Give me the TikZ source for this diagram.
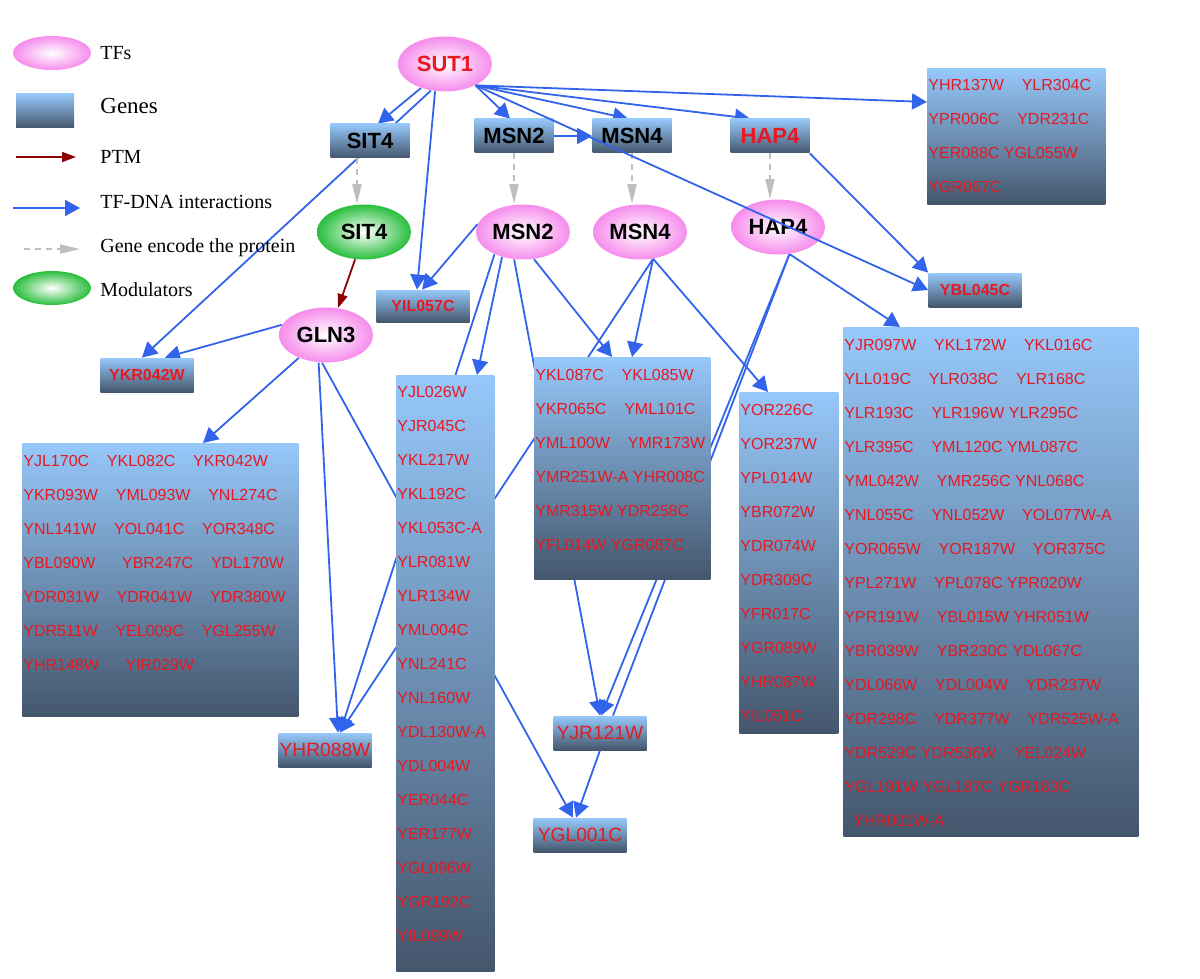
\documentclass[tikz,border=0pt]{standalone}
\usepackage{fontspec}
\setmainfont{Liberation Serif}
\newfontfamily\arialf{Liberation Sans}
\usepackage{tikz}
\usetikzlibrary{arrows.meta, calc, shapes.geometric}

\definecolor{tfpink}{RGB}{246,140,236}
\definecolor{modgreen}{RGB}{40,190,60}
\definecolor{genetop}{RGB}{150,200,250}
\definecolor{genebot}{RGB}{68,86,108}
\definecolor{genered}{RGB}{230,25,35}
\definecolor{edgeblue}{RGB}{50,100,235}
\definecolor{ptmred}{RGB}{140,0,0}
\definecolor{encgray}{RGB}{190,190,190}

\pgfdeclarelayer{bg}
\pgfsetlayers{bg,main}

\tikzset{
  tf/.style={ellipse, minimum width=47pt, minimum height=27.5pt, inner sep=0, inner color=white, outer color=tfpink, font=\arialf\bfseries\fontsize{11}{12}\selectfont},
  modu/.style={tf, outer color=modgreen},
  gene/.style={rectangle, minimum width=39.5pt, minimum height=17pt, inner sep=0, top color=genetop, bottom color=genebot, font=\arialf\bfseries\fontsize{11}{12}\selectfont},
  hit/.style={gene, minimum width=46.5pt, font=\arialf\bfseries\fontsize{8}{9}\selectfont, text=genered},
  bighit/.style={gene, minimum width=46.5pt, font=\arialf\fontsize{9.6}{11}\selectfont, text=genered},
  genebox/.style={rectangle, anchor=north west, inner sep=0, top color=genetop, bottom color=genebot},
  genetxt/.style={anchor=west, inner sep=0, text=genered, font=\arialf\fontsize{8}{9}\selectfont},
  legtxt/.style={anchor=west, inner sep=0, font=\fontsize{10}{12}\selectfont},
  tfline/.style={draw=edgeblue, line width=0.9pt},
  tfdna/.style={tfline, -{Triangle[length=7.5pt,width=8pt]}},
  ptm/.style={draw=ptmred, line width=0.9pt, -{Triangle[length=7pt,width=5pt]}},
  encode/.style={draw=encgray, line width=1pt, dash pattern=on 3pt off 2.5pt, -{Triangle[length=10pt,width=4.5pt]}}
}

\begin{document}
\begin{tikzpicture}[x=0.5pt, y=-0.5pt]
    \useasboundingbox (0,0) rectangle (1200,979);

    % legend
    \node[tf, minimum width=39pt, minimum height=17pt] (lgtf) at (52,53) {};
    \node[legtxt] (lgtft) at (100,53) {TFs};
    \node[gene, minimum width=29pt, minimum height=17pt] (lggene) at (45,111) {};
    \node[legtxt, font=\fontsize{11.5}{13}\selectfont] (lggenet) at (100,106) {Genes};
    \coordinate (lgptma) at (16,157);
    \coordinate (lgptmb) at (76,157);
    \draw[ptm] (lgptma) -- (lgptmb);
    \node[legtxt] (lgptmt) at (100,157) {PTM};
    \coordinate (lgdnaa) at (13,208);
    \coordinate (lgdnab) at (80,208);
    \draw[tfdna] (lgdnaa) -- (lgdnab);
    \node[legtxt] (lgdnat) at (100,202) {TF-DNA interactions};
    \coordinate (lgenca) at (24,249);
    \coordinate (lgencb) at (80,249);
    \draw[encode] (lgenca) -- (lgencb);
    \node[legtxt] (lgenct) at (100,248) {Gene encode the protein};
    \node[modu, minimum width=39pt, minimum height=17pt] (lgmod) at (52,288) {};
    \node[legtxt] (lgmodt) at (100,290) {Modulators};

    % regulators
    \node[tf, text=genered] (sut1) at (445,64) {SUT1};
    \node[gene] (sit4g) at (370,141) {SIT4};
    \node[gene] (msn2g) at (514,136) {MSN2};
    \node[gene] (msn4g) at (632,136) {MSN4};
    \node[gene, text=genered] (hap4g) at (770,136) {HAP4};
    \node[modu] (sit4p) at (364,232) {SIT4};
    \node[tf] (msn2p) at (523,232) {MSN2};
    \node[tf] (msn4p) at (640,232) {MSN4};
    \node[tf] (hap4p) at (778,227) {HAP4};
    \node[tf] (gln3) at (326,335) {GLN3};

    % single targets
    \node[hit, minimum height=16pt] (yil057) at (423,306) {YIL057C};
    \node[hit] (ykr042) at (147,375) {YKR042W};
    \node[hit] (ybl045) at (975,290) {YBL045C};
    \node[bighit] (yhr088) at (325,750) {YHR088W};
    \node[bighit] (yjr121) at (600,733) {YJR121W};
    \node[bighit] (ygl001) at (580,835) {YGL001C};

    % target groups
    \node[genebox, minimum width=89pt, minimum height=68pt] (sutT) at (927,68) {};
    \foreach \g [count=\i] in {YHR137W~~~~YLR304C, YPR006C~~~~YDR231C, YER088C~YGL055W, YGR067C}
        \node[genetxt] (sutT-\i) at (928,{85+(\i-1)*34}) {\g};

    \node[genebox, minimum width=138pt, minimum height=136.5pt] (glnT) at (22,443) {};
    \foreach \g [count=\i] in {YJL170C~~~~YKL082C~~~~YKR042W, YKR093W~~~~YML093W~~~~YNL274C,
        YNL141W~~~~YOL041C~~~~YOR348C, YBL090W~~~~~~YBR247C~~~~YDL170W,
        YDR031W~~~~YDR041W~~~~YDR380W, YDR511W~~~~YEL009C~~~~YGL255W, YHR148W~~~~~~YIR029W}
        \node[genetxt] (glnT-\i) at (23,{461+(\i-1)*34}) {\g};

    \node[genebox, minimum width=49pt, minimum height=298pt] (msn2T) at (396,375) {};
    \foreach \g [count=\i] in {YJL026W, YJR045C, YKL217W, YKL192C, YKL053C-A, YLR081W, YLR134W,
        YML004C, YNL241C, YNL160W, YDL130W-A, YDL004W, YER044C, YER177W, YGL096W, YGR192C, YIL099W}
        \node[genetxt] (msn2T-\i) at (397,{392+(\i-1)*34}) {\g};

    \node[genebox, minimum width=88pt, minimum height=111pt] (midT) at (534,357) {};
    \foreach \g [count=\i] in {YKL087C~~~~YKL085W, YKR065C~~~~YML101C, YML100W~~~~YMR173W,
        YMR251W-A~YHR008C, YMR315W~YDR258C, YFL014W~YGR087C}
        \node[genetxt] (midT-\i) at (535,{375+(\i-1)*34}) {\g};

    \node[genebox, minimum width=49.5pt, minimum height=170.5pt] (msn4T) at (739,392) {};
    \foreach \g [count=\i] in {YOR226C, YOR237W, YPL014W, YBR072W, YDR074W, YDR309C, YFR017C,
        YGR089W, YHR087W, YIL051C}
        \node[genetxt] (msn4T-\i) at (740,{410+(\i-1)*34}) {\g};

    \node[genebox, minimum width=147.5pt, minimum height=254.5pt] (hapT) at (843,327) {};
    \foreach \g [count=\i] in {YJR097W~~~~YKL172W~~~~YKL016C, YLL019C~~~~YLR038C~~~~YLR168C,
        YLR193C~~~~YLR196W~YLR295C, YLR395C~~~~YML120C~YML087C, YML042W~~~~YMR256C~YNL068C,
        YNL055C~~~~YNL052W~~~~YOL077W-A, YOR065W~~~~YOR187W~~~~YOR375C, YPL271W~~~~YPL078C~YPR020W,
        YPR191W~~~~YBL015W~YHR051W, YBR039W~~~~YBR230C~YDL067C, YDL066W~~~~YDL004W~~~~YDR237W,
        YDR298C~~~~YDR377W~~~~YDR525W-A, YDR529C~YDR536W~~~~YEL024W, YGL191W~YGL187C~YGR183C,
        ~~YHR001W-A}
        \node[genetxt] (hapT-\i) at (844,{345+(\i-1)*34}) {\g};

    \begin{pgfonlayer}{bg}
        \draw[tfdna] (sut1.-135) -- ($(sit4g.north)+(8,0)$);
        \draw[tfdna] (sut1.-118) -- ($(ykr042.north)+(-5,0)$);
        \draw[tfdna] (sut1.-110) -- ($(yil057.north)+(-6,0)$);
        \draw[tfdna] (sut1.-35) -- ($(msn2g.north)+(-4,0)$);
        \draw[tfdna] (sut1.-35) -- ($(msn4g.north)+(-4,0)$);
        \draw[tfdna] (sut1.-35) -- ($(hap4g.north)+(-20,0)$);
        \draw[tfdna] (sut1.-35) -- ($(sutT.north west)+(0,34)$);
        \draw[tfdna] (msn2g) -- (msn4g);
        \draw[tfdna] (hap4g.south east) -- (ybl045.north west);

        \draw[encode] ($(sit4g.south)+(-13,0)$) -- ($(sit4p.north)+(-7,0)$);
        \draw[encode] (msn2g.south) -- (msn2g.south |- msn2p.north);
        \draw[encode] (msn4g.south) -- (msn4g.south |- msn4p.north);
        \draw[encode] (hap4g.south) -- (hap4g.south |- hap4p.north);
        \draw[ptm] (sit4p.-108) -- (gln3.66);

        \draw[tfdna] (gln3.167) -- ($(ykr042.north)+(18,0)$);
        \draw[tfdna] (gln3.-140) -- ($(glnT.north west)+(181,0)$);
        \draw[tfdna] (gln3.-105) -- ($(yhr088.north)+(13,0)$);
        \draw[tfdna] (gln3.-98) -- ($(ygl001.north)+(-7,0)$);

        \draw[tfdna] (msn2p.170) -- ($(yil057.north)+(-1,0)$);
        \draw[tfdna] (msn2p.-130) -- ($(msn2T.north west)+(81,0)$);
        \draw[tfdna] (msn2p.-142) -- ($(yhr088.north)+(15,0)$);
        \draw[tfdna] (msn2p.-108) -- (yjr121.north);
        \draw[tfdna] (msn2p.-68) -- ($(midT.north west)+(78,0)$);

        \draw[tfdna] (msn4p.-64) -- ($(midT.north west)+(98,0)$);
        \draw[tfdna] (msn4p.-64) -- ($(yhr088.north)+(15,0)$);
        \draw[tfdna] (msn4p.-64) -- ($(msn4T.north west)+(29,0)$);

        \draw[tfdna] (hap4p.-67) -- ($(yjr121.north)+(1,0)$);
        \draw[tfline] (hap4p.-67) -- ($(yjr121.north)+(13,0)$);
        \draw[tfdna] (hap4p.-67) -- ($(hapT.north west)+(57,0)$);

        \draw[tfdna] (yjr121.south) -- ($(ygl001.north)+(-4,0)$);
    \end{pgfonlayer}

    \draw[tfdna] (sut1.-35) -- (ybl045.west);

\end{tikzpicture}
\end{document}
